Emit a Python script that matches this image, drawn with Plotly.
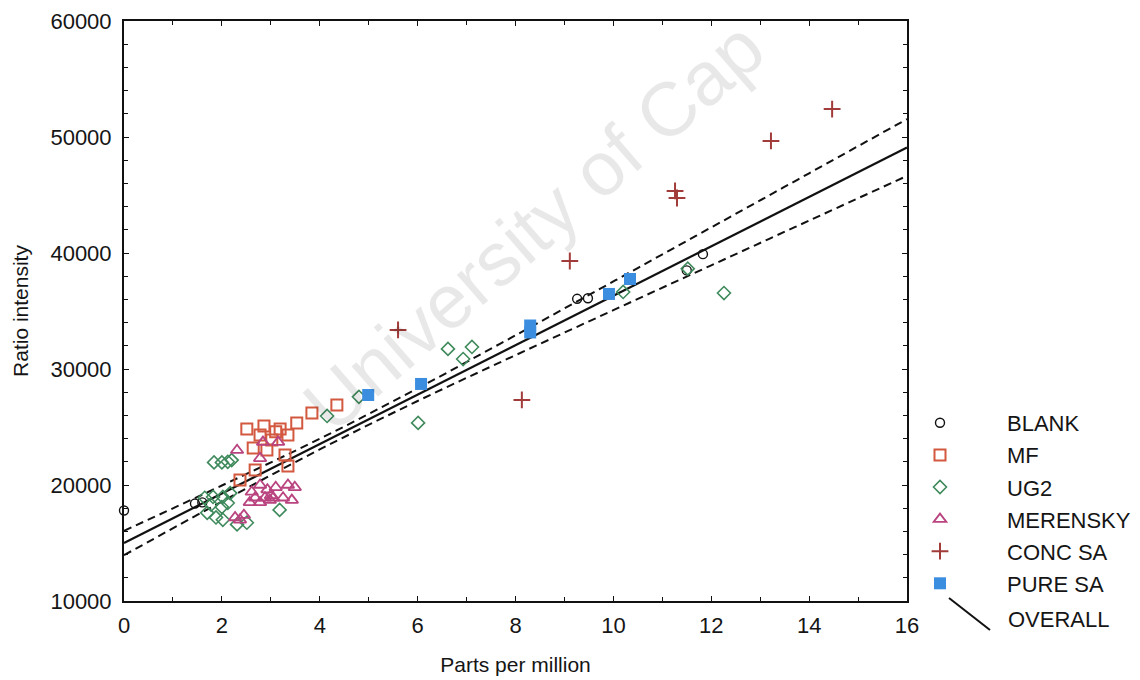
import plotly.graph_objects as go

# ---------------- data ----------------
blank_x = [0.0, 1.45, 1.6, 9.26, 9.48, 11.5, 11.83]
blank_y = [17800, 18400, 18500, 36050, 36100, 38500, 39900]

mf_x = [2.51, 2.86, 3.19, 2.78, 3.02, 3.35, 3.53, 3.84, 4.35, 2.64, 2.92, 3.29, 3.35, 2.68, 2.37, 3.10]
mf_y = [24830, 25090, 24830, 24310, 23880, 24310, 25350, 26210, 26900, 23190, 23020, 22590, 21640, 21300, 20430, 24600]

ug2_x = [1.84, 2.0, 2.12, 2.2, 1.82, 2.02, 2.17, 1.78, 2.0, 2.12, 1.70, 1.88, 2.02, 2.31, 2.51, 3.18,
         4.15, 4.80, 6.01, 6.62, 7.11, 6.93, 10.2, 11.52, 12.26, 1.65]
ug2_y = [21950, 21950, 22000, 22150, 18970, 18970, 19300, 18300, 18100, 18450, 17600, 17200, 17000, 16600, 16750, 17850,
         25950, 27600, 25350, 31730, 31900, 30860, 36640, 38650, 36550, 18900]

mer_x = [2.31, 2.78, 2.84, 3.15, 2.78, 3.35, 3.49, 2.93, 3.10, 2.61, 2.68, 2.88, 3.05, 2.57, 2.78, 2.98,
         3.25, 3.43, 2.27, 2.37, 2.45, 3.0]
mer_y = [23000, 22300, 23700, 23700, 20000, 20000, 19800, 19600, 19800, 19400, 18900, 18900, 18900, 18500, 18500, 18700,
         18900, 18700, 17200, 17000, 17400, 19100]

conc_x = [5.60, 8.13, 9.11, 11.26, 11.30, 13.22, 14.47]
conc_y = [33370, 27330, 39310, 45350, 44740, 49660, 52410]

pure_x = [4.99, 6.07, 8.30, 8.30, 9.91, 10.34]
pure_y = [27760, 28710, 33750, 33150, 36470, 37760]

overall_x = [0, 16]
overall_y = [15000, 49100]

band_x = [0, 2, 4, 6, 8, 10, 12, 14, 16]
band_upper = [16050, 19955, 23984, 28331, 32904, 37548, 42206, 46874, 51546]
band_lower = [13950, 18569, 23064, 27241, 31192, 35072, 38938, 42794, 46646]

x_ticks = [0, 2, 4, 6, 8, 10, 12, 14, 16]
y_ticks = [10000, 20000, 30000, 40000, 50000, 60000]

# ---------------- styling ----------------
FONT = "Arial, Liberation Sans, sans-serif"
TXT = "#151515"
C_BLANK = "#111111"
C_MF = "#d2583f"
C_UG2 = "#3f8a5c"
C_MER = "#b9447f"
C_CONC = "#a13c3a"
C_PURE = "#3b8de0"

fig = go.Figure()

# regression line and confidence band
fig.add_trace(go.Scatter(x=band_x, y=band_upper, mode="lines", line_shape="spline",
                         line=dict(color="#111", width=2, dash="8px,5px"),
                         showlegend=False, hoverinfo="skip"))
fig.add_trace(go.Scatter(x=band_x, y=band_lower, mode="lines", line_shape="spline",
                         line=dict(color="#111", width=2, dash="8px,5px"),
                         showlegend=False, hoverinfo="skip"))
fig.add_trace(go.Scatter(x=overall_x, y=overall_y, mode="lines",
                         line=dict(color="#111", width=2.2), name="OVERALL",
                         showlegend=False))

def pts(x, y, name, symbol, color, size, lw, group):
    return go.Scatter(x=x, y=y, mode="markers", name=name, legendgroup=group,
                      marker=dict(symbol=symbol, size=size, color=color,
                                  line=dict(color=color, width=lw)),
                      cliponaxis=False)

fig.add_trace(pts(blank_x, blank_y, "BLANK", "circle-open", C_BLANK, 9, 1.4, "a"))
fig.add_trace(pts(mf_x, mf_y, "MF", "square-open", C_MF, 11, 2, "b"))
fig.add_trace(pts(ug2_x, ug2_y, "UG2", "diamond-open", C_UG2, 10, 1.6, "c"))
fig.add_trace(pts(mer_x, mer_y, "MERENSKY", "triangle-up-open", C_MER, 11, 1.8, "d"))
fig.add_trace(pts(conc_x, conc_y, "CONC SA", "cross-thin-open", C_CONC, 12, 2, "e"))
fig.add_trace(pts(pure_x, pure_y, "PURE SA", "square", C_PURE, 12, 0, "f"))

axis_common = dict(
    showline=True, linecolor="#111", linewidth=2, mirror="allticks",
    ticks="inside", ticklen=5, tickcolor="#111", tickwidth=1.2,
    showgrid=False, zeroline=False,
    tickfont=dict(family=FONT, size=22, color=TXT),
)

fig.update_xaxes(range=[0, 16], tickvals=x_ticks, ticklabelstandoff=4,
                 minor=dict(dtick=1, ticks="inside", ticklen=4, tickcolor="#111"),
                 title=dict(text="Parts per million", font=dict(family=FONT, size=21, color=TXT),
                            standoff=20),
                 **axis_common)
fig.update_yaxes(range=[10000, 60000], tickvals=y_ticks, tickformat="d", ticklabelstandoff=6,
                 minor=dict(dtick=2000, ticks="inside", ticklen=4, tickcolor="#111"),
                 title=dict(text="Ratio intensity", font=dict(family=FONT, size=21, color=TXT),
                            standoff=16),
                 **axis_common)

# plot area: x 124..907 px, y 21..601 px
L, R, T, B = 124, 907, 21, 601
W, H = 1140, 680

def px2paper(px, py):
    return (px - L) / (R - L), (B - py) / (B - T)

lx, ly = px2paper(873, 402)
ox1, oy1 = px2paper(949, 598)
ox2, oy2 = px2paper(990, 630)
otx, oty = px2paper(1006, 620)
wx, wy = px2paper(533, 226)

fig.update_layout(
    width=W, height=H,
    margin=dict(l=L, r=W - R, t=T, b=H - B, autoexpand=False),
    paper_bgcolor="white", plot_bgcolor="white",
    font=dict(family=FONT, color=TXT),
    legend=dict(x=lx, y=ly, xanchor="left", yanchor="top",
                font=dict(family=FONT, size=22, color=TXT),
                tracegroupgap=0.5, itemwidth=124, bgcolor="rgba(0,0,0,0)"),
    shapes=[dict(type="line", xref="paper", yref="paper",
                 x0=ox1, y0=oy1, x1=ox2, y1=oy2,
                 line=dict(color="#111", width=2))],
    annotations=[
        dict(text="OVERALL", xref="paper", yref="paper", x=otx, y=oty,
             xanchor="left", yanchor="middle", showarrow=False,
             font=dict(family=FONT, size=22, color=TXT)),
        dict(text="University of Cap", xref="paper", yref="paper", x=wx, y=wy,
             xanchor="center", yanchor="middle", showarrow=False, textangle=-41,
             font=dict(family=FONT, size=76, color="rgba(0,0,0,0.09)")),
    ],
)

fig.write_html("out.html")
